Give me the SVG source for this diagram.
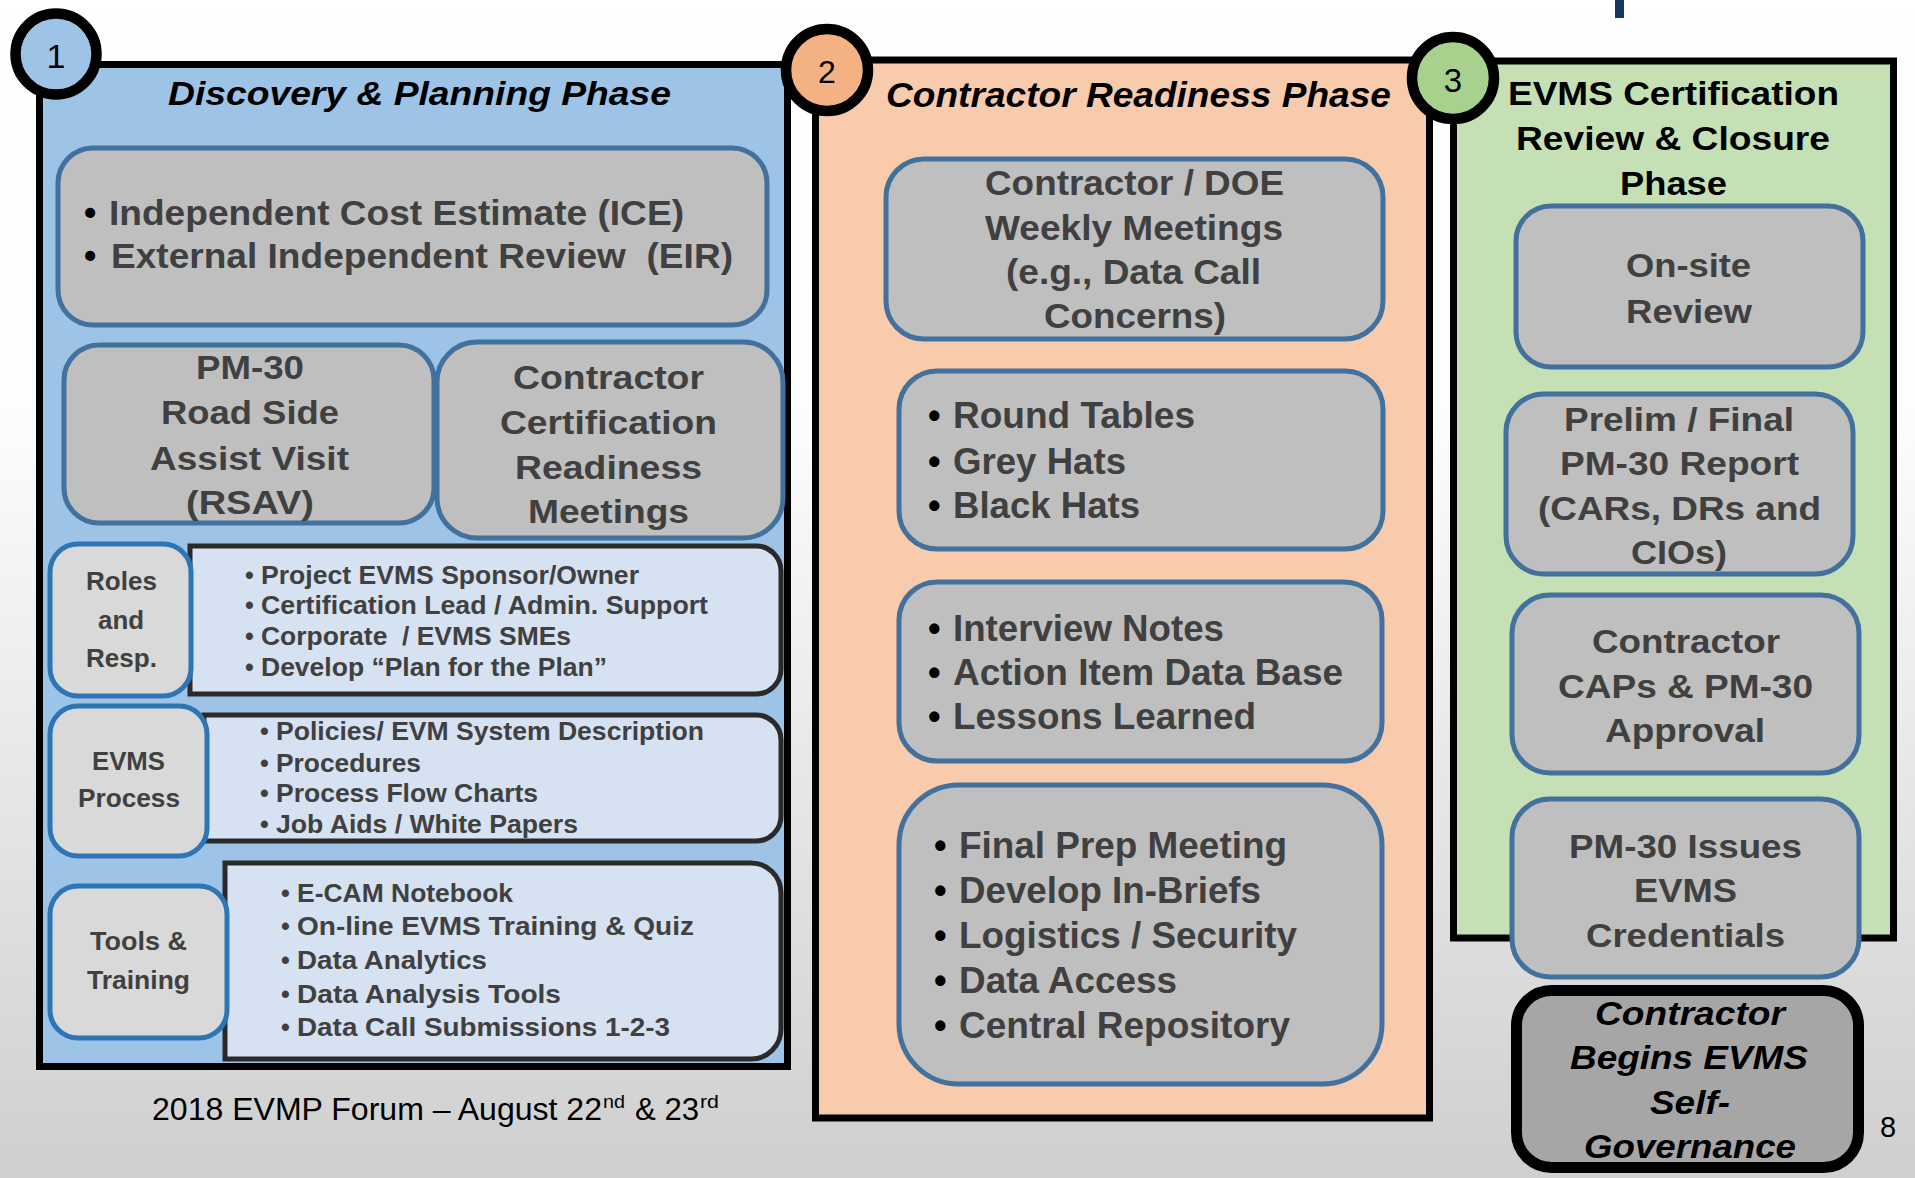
<svg xmlns="http://www.w3.org/2000/svg" width="1915" height="1178" viewBox="0 0 1915 1178">
<defs>
<linearGradient id="bg" x1="0" y1="0" x2="0" y2="1">
<stop offset="0" stop-color="#ffffff"/>
<stop offset="0.35" stop-color="#fdfdfd"/>
<stop offset="1" stop-color="#cfcfcf"/>
</linearGradient>
<style>
.f{font-family:"Liberation Sans",Arial,Helvetica,sans-serif}
.b{font-weight:bold}
.i{font-style:italic}
.g{fill:#404040}
.k{fill:#000000}
.bu{fill:#000000;font-weight:bold}
.bx{fill:#bfbfbf;stroke:#41719c;stroke-width:5}
.lb{fill:#d9d9d9;stroke:#2e75b6;stroke-width:5}
.ct{fill:#d6e1f2;stroke:#2a2a2a;stroke-width:5}
.pn{stroke:#000;stroke-width:7}
.ci{stroke:#000;stroke-width:10.5}
.s36{font-size:36px}
.s35{font-size:35px}
.s34{font-size:34px}
.s26{font-size:26px}
.s25{font-size:25px}
</style>
</defs>
<rect x="0" y="0" width="1915" height="1178" fill="url(#bg)"/>
<rect x="1615" y="0" width="9" height="18" fill="#17375e"/>

<!-- Panels -->
<g id="panel1">
<rect class="pn" x="39.5" y="64.5" width="748" height="1002" fill="#9dc3e6"/>
<text class="f b i k s34" x="168" y="105" textLength="503" lengthAdjust="spacingAndGlyphs">Discovery &amp; Planning Phase</text>
</g>
<g id="panel2">
<rect class="pn" x="815.5" y="60" width="614" height="1058" fill="#f8cbad"/>
<text class="f b i k s35" x="886" y="107" textLength="505" lengthAdjust="spacingAndGlyphs">Contractor Readiness Phase</text>
</g>
<g id="panel3">
<rect class="pn" x="1453.5" y="61" width="440" height="877" fill="#c5e0b4"/>
<text class="f b k s34" x="1508" y="105" textLength="331" lengthAdjust="spacingAndGlyphs">EVMS Certification</text>
<text class="f b k s34" x="1516" y="150" textLength="314" lengthAdjust="spacingAndGlyphs">Review &amp; Closure</text>
<text class="f b k s34" x="1620" y="195" textLength="107" lengthAdjust="spacingAndGlyphs">Phase</text>
</g>

<!-- Phase markers -->
<g id="marker1">
<circle class="ci" cx="56" cy="54" r="40.5" fill="#9dc3e6"/>
<text class="f k" x="56" y="68" font-size="34" text-anchor="middle">1</text>
</g>
<g id="marker2">
<circle class="ci" cx="827" cy="70" r="41" fill="#f4b183"/>
<text class="f k" x="827" y="83" font-size="32" text-anchor="middle">2</text>
</g>
<g id="marker3">
<circle class="ci" cx="1453" cy="78" r="41" fill="#a9d18e"/>
<text class="f k" x="1453" y="92" font-size="33" text-anchor="middle">3</text>
</g>

<!-- Panel 1 nodes -->
<g id="ice-eir">
<rect class="bx" x="58" y="148" width="709" height="177" rx="35"/>
<text class="f bu s35" x="84" y="225">•</text>
<text class="f b g s35" x="109" y="225" textLength="575" lengthAdjust="spacingAndGlyphs">Independent Cost Estimate (ICE)</text>
<text class="f bu s35" x="84" y="268">•</text>
<text class="f b g s35" x="111" y="268" textLength="622" lengthAdjust="spacingAndGlyphs" xml:space="preserve">External Independent Review  (EIR)</text>
</g>
<g id="rsav">
<rect class="bx" x="64" y="345" width="370" height="178" rx="35"/>
<text class="f b g s34" x="196" y="379" textLength="108" lengthAdjust="spacingAndGlyphs">PM-30</text>
<text class="f b g s34" x="161" y="424" textLength="178" lengthAdjust="spacingAndGlyphs">Road Side</text>
<text class="f b g s34" x="150" y="470" textLength="199" lengthAdjust="spacingAndGlyphs">Assist Visit</text>
<text class="f b g s34" x="186" y="514" textLength="128" lengthAdjust="spacingAndGlyphs">(RSAV)</text>
</g>
<g id="readiness-meetings">
<rect class="bx" x="437" y="342" width="346" height="196" rx="40"/>
<text class="f b g s34" x="513" y="389" textLength="191" lengthAdjust="spacingAndGlyphs">Contractor</text>
<text class="f b g s34" x="500" y="434" textLength="217" lengthAdjust="spacingAndGlyphs">Certification</text>
<text class="f b g s34" x="515" y="479" textLength="187" lengthAdjust="spacingAndGlyphs">Readiness</text>
<text class="f b g s34" x="528" y="523" textLength="161" lengthAdjust="spacingAndGlyphs">Meetings</text>
</g>

<g id="roles-list">
<path class="ct" d="M190,546 H756 A25,25 0 0 1 781,571 V669 A25,25 0 0 1 756,694 H190 Z"/>
<g class="f b g s25">
<text x="245" y="584">•</text><text x="261" y="584" textLength="378" lengthAdjust="spacingAndGlyphs">Project EVMS Sponsor/Owner</text>
<text x="245" y="614">•</text><text x="261" y="614" textLength="447" lengthAdjust="spacingAndGlyphs">Certification Lead / Admin. Support</text>
<text x="245" y="645">•</text><text x="261" y="645" textLength="310" lengthAdjust="spacingAndGlyphs" xml:space="preserve">Corporate  / EVMS SMEs</text>
<text x="245" y="676">•</text><text x="261" y="676" textLength="346" lengthAdjust="spacingAndGlyphs">Develop “Plan for the Plan”</text>
</g>
</g>
<g id="roles">
<rect class="lb" x="50" y="544" width="141" height="152" rx="28"/>
<g class="f b g s26">
<text x="86" y="590" textLength="71" lengthAdjust="spacingAndGlyphs">Roles</text>
<text x="98" y="629" textLength="46" lengthAdjust="spacingAndGlyphs">and</text>
<text x="86" y="667" textLength="71" lengthAdjust="spacingAndGlyphs">Resp.</text>
</g>
</g>

<g id="process-list">
<path class="ct" d="M204,715 H756 A25,25 0 0 1 781,740 V816 A25,25 0 0 1 756,841 H204 Z"/>
<g class="f b g s25">
<text x="260" y="740">•</text><text x="276" y="740" textLength="428" lengthAdjust="spacingAndGlyphs">Policies/ EVM System Description</text>
<text x="260" y="772">•</text><text x="276" y="772" textLength="145" lengthAdjust="spacingAndGlyphs">Procedures</text>
<text x="260" y="802">•</text><text x="276" y="802" textLength="262" lengthAdjust="spacingAndGlyphs">Process Flow Charts</text>
<text x="260" y="833">•</text><text x="276" y="833" textLength="302" lengthAdjust="spacingAndGlyphs">Job Aids / White Papers</text>
</g>
</g>
<g id="evms-process">
<rect class="lb" x="50" y="706" width="157" height="150" rx="28"/>
<g class="f b g s26">
<text x="92" y="770" textLength="73" lengthAdjust="spacingAndGlyphs">EVMS</text>
<text x="78" y="807" textLength="102" lengthAdjust="spacingAndGlyphs">Process</text>
</g>
</g>

<g id="tools-list">
<path class="ct" d="M225,863 H751 A30,30 0 0 1 781,893 V1029 A30,30 0 0 1 751,1059 H225 Z"/>
<g class="f b g s25">
<text x="281" y="902">•</text><text x="297" y="902" textLength="216" lengthAdjust="spacingAndGlyphs">E-CAM Notebook</text>
<text x="281" y="935">•</text><text x="297" y="935" textLength="397" lengthAdjust="spacingAndGlyphs">On-line EVMS Training &amp; Quiz</text>
<text x="281" y="969">•</text><text x="297" y="969" textLength="190" lengthAdjust="spacingAndGlyphs">Data Analytics</text>
<text x="281" y="1003">•</text><text x="297" y="1003" textLength="264" lengthAdjust="spacingAndGlyphs">Data Analysis Tools</text>
<text x="281" y="1036">•</text><text x="297" y="1036" textLength="373" lengthAdjust="spacingAndGlyphs">Data Call Submissions 1-2-3</text>
</g>
</g>
<g id="tools-training">
<rect class="lb" x="50" y="886" width="177" height="152" rx="28"/>
<g class="f b g s26">
<text x="90" y="950" textLength="97" lengthAdjust="spacingAndGlyphs">Tools &amp;</text>
<text x="87" y="989" textLength="103" lengthAdjust="spacingAndGlyphs">Training</text>
</g>
</g>

<!-- Panel 2 nodes -->
<g id="weekly-meetings">
<rect class="bx" x="886" y="159" width="497" height="180" rx="38"/>
<g class="f b g s35">
<text x="985" y="195" textLength="299" lengthAdjust="spacingAndGlyphs">Contractor / DOE</text>
<text x="985" y="240" textLength="298" lengthAdjust="spacingAndGlyphs">Weekly Meetings</text>
<text x="1006" y="284" textLength="255" lengthAdjust="spacingAndGlyphs">(e.g., Data Call</text>
<text x="1044" y="328" textLength="182" lengthAdjust="spacingAndGlyphs">Concerns)</text>
</g>
</g>
<g id="hats">
<rect class="bx" x="899" y="371" width="484" height="178" rx="38"/>
<g class="f b g s36">
<text class="bu" x="928" y="428">•</text><text x="953" y="428" textLength="242" lengthAdjust="spacingAndGlyphs">Round Tables</text>
<text class="bu" x="928" y="474">•</text><text x="953" y="474" textLength="173" lengthAdjust="spacingAndGlyphs">Grey Hats</text>
<text class="bu" x="928" y="518">•</text><text x="953" y="518" textLength="187" lengthAdjust="spacingAndGlyphs">Black Hats</text>
</g>
</g>
<g id="notes">
<rect class="bx" x="899" y="582" width="483" height="179" rx="38"/>
<g class="f b g s36">
<text class="bu" x="928" y="641">•</text><text x="953" y="641" textLength="271" lengthAdjust="spacingAndGlyphs">Interview Notes</text>
<text class="bu" x="928" y="685">•</text><text x="953" y="685" textLength="390" lengthAdjust="spacingAndGlyphs">Action Item Data Base</text>
<text class="bu" x="928" y="729">•</text><text x="953" y="729" textLength="303" lengthAdjust="spacingAndGlyphs">Lessons Learned</text>
</g>
</g>
<g id="final-prep">
<rect class="bx" x="899" y="785" width="483" height="299" rx="60"/>
<g class="f b g s36">
<text class="bu" x="934" y="858">•</text><text x="959" y="858" textLength="328" lengthAdjust="spacingAndGlyphs">Final Prep Meeting</text>
<text class="bu" x="934" y="903">•</text><text x="959" y="903" textLength="302" lengthAdjust="spacingAndGlyphs">Develop In-Briefs</text>
<text class="bu" x="934" y="948">•</text><text x="959" y="948" textLength="338" lengthAdjust="spacingAndGlyphs">Logistics / Security</text>
<text class="bu" x="934" y="993">•</text><text x="959" y="993" textLength="218" lengthAdjust="spacingAndGlyphs">Data Access</text>
<text class="bu" x="934" y="1038">•</text><text x="959" y="1038" textLength="331" lengthAdjust="spacingAndGlyphs">Central Repository</text>
</g>
</g>

<!-- Panel 3 nodes -->
<g id="onsite-review">
<rect class="bx" x="1516" y="206" width="347" height="161" rx="35"/>
<g class="f b g s34">
<text x="1626" y="277" textLength="125" lengthAdjust="spacingAndGlyphs">On-site</text>
<text x="1626" y="323" textLength="126" lengthAdjust="spacingAndGlyphs">Review</text>
</g>
</g>
<g id="report">
<rect class="bx" x="1506" y="394" width="347" height="180" rx="38"/>
<g class="f b g s34">
<text x="1564" y="431" textLength="230" lengthAdjust="spacingAndGlyphs">Prelim / Final</text>
<text x="1560" y="475" textLength="239" lengthAdjust="spacingAndGlyphs">PM-30 Report</text>
<text x="1538" y="520" textLength="283" lengthAdjust="spacingAndGlyphs">(CARs, DRs and</text>
<text x="1631" y="564" textLength="96" lengthAdjust="spacingAndGlyphs">CIOs)</text>
</g>
</g>
<g id="caps-approval">
<rect class="bx" x="1512" y="595" width="347" height="178" rx="38"/>
<g class="f b g s34">
<text x="1592" y="653" textLength="188" lengthAdjust="spacingAndGlyphs">Contractor</text>
<text x="1558" y="698" textLength="255" lengthAdjust="spacingAndGlyphs">CAPs &amp; PM-30</text>
<text x="1605" y="742" textLength="160" lengthAdjust="spacingAndGlyphs">Approval</text>
</g>
</g>
<g id="credentials">
<rect class="bx" x="1512" y="799" width="347" height="178" rx="38"/>
<g class="f b g s34">
<text x="1569" y="858" textLength="233" lengthAdjust="spacingAndGlyphs">PM-30 Issues</text>
<text x="1634" y="902" textLength="103" lengthAdjust="spacingAndGlyphs">EVMS</text>
<text x="1586" y="947" textLength="199" lengthAdjust="spacingAndGlyphs">Credentials</text>
</g>
</g>
<g id="self-governance">
<rect x="1516.5" y="990.5" width="342" height="177" rx="35" fill="#a6a6a6" stroke="#000" stroke-width="11"/>
<g class="f b i k s34">
<text x="1595" y="1025" textLength="190" lengthAdjust="spacingAndGlyphs">Contractor</text>
<text x="1570" y="1069" textLength="238" lengthAdjust="spacingAndGlyphs">Begins EVMS</text>
<text x="1650" y="1114" textLength="80" lengthAdjust="spacingAndGlyphs">Self-</text>
<text x="1584" y="1158" textLength="212" lengthAdjust="spacingAndGlyphs">Governance</text>
</g>
</g>

<g id="connectors"></g>

<!-- Footer -->
<g id="footer" class="f k">
<text x="152" y="1120" font-size="31" textLength="450" lengthAdjust="spacingAndGlyphs">2018 EVMP Forum – August 22</text>
<text x="603" y="1108" font-size="19" textLength="22" lengthAdjust="spacingAndGlyphs">nd</text>
<text x="635" y="1120" font-size="31" textLength="64" lengthAdjust="spacingAndGlyphs">&amp; 23</text>
<text x="700" y="1108" font-size="19" textLength="19" lengthAdjust="spacingAndGlyphs">rd</text>
<text x="1880" y="1137" font-size="29">8</text>
</g>
</svg>
